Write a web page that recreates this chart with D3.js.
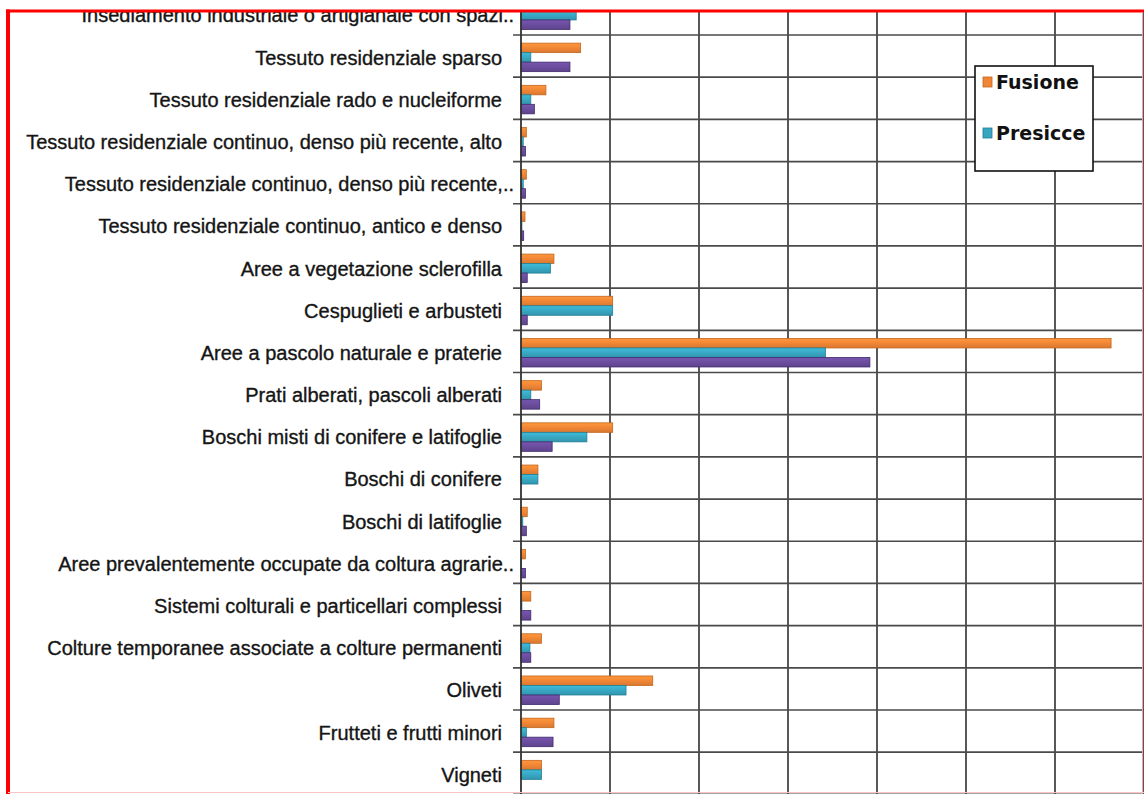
<!DOCTYPE html>
<html>
<head>
<meta charset="utf-8">
<script src="https://cdn.jsdelivr.net/npm/d3@7"></script>
<style>
  html, body { margin: 0; padding: 0; background: #fff; }
  svg { display: block; }
</style>
</head>
<body>
<svg id="chart" width="1144" height="794"></svg>
<script>
// ---- data (values in arbitrary units; one gridline = 100) ----
const categories = [
  "Insediamento industriale o artigianale con spazi..",
  "Tessuto residenziale sparso",
  "Tessuto residenziale rado e nucleiforme",
  "Tessuto residenziale continuo, denso più recente, alto",
  "Tessuto residenziale continuo, denso più recente,..",
  "Tessuto residenziale continuo, antico e denso",
  "Aree a vegetazione sclerofilla",
  "Cespuglieti e arbusteti",
  "Aree a pascolo naturale e praterie",
  "Prati alberati, pascoli alberati",
  "Boschi misti di conifere e latifoglie",
  "Boschi di conifere",
  "Boschi di latifoglie",
  "Aree prevalentemente occupate da coltura agrarie..",
  "Sistemi colturali e particellari complessi",
  "Colture temporanee associate a  colture permanenti",
  "Oliveti",
  "Frutteti e frutti minori",
  "Vigneti"
];
const seriesNames = ["Fusione", "Presicce", "Altro"];
const fusione  = [67, 67, 28, 6, 6, 4.5, 37, 103, 663, 23, 103, 19, 7, 5, 11, 23, 148, 37, 23];
const presicce = [62, 11, 11, 2.5, 2.5, 1, 33, 103, 342, 11, 74, 19, 2, 0.5, 1, 10, 118, 6, 23];
const altro    = [55, 55, 15, 5, 5, 3, 7, 7, 392, 21, 35, 0, 6, 5, 11, 11, 43, 36, 0];
const legendNames = ["Fusione", "Presicce"];
const xTicks = [100, 200, 300, 400, 500, 600, 700];
const xMax = 700;

const seriesValues = [fusione, presicce, altro];
const fills   = ["#EF8535", "#38A6C1", "#6A4C9C"];
const strokes = ["#C4661E", "#1E7E96", "#3E2A6B"];

// ---- layout ----
const svg = d3.select("#chart");
const W = 1144, H = 794;
const plotTop = 12;
const x = d3.scaleLinear().domain([0, xMax]).range([521, 1144]);
const y = d3.scaleBand().domain(categories).range([-7.2, 794.4]).paddingInner(0).paddingOuter(0);
const ys = d3.scaleBand().domain(seriesNames).range([1.3, y.bandwidth() + 1.3]).paddingInner(0).paddingOuter(0.72);

// gradients for bars
const defs = svg.append("defs");
fills.forEach((c, i) => {
  const g = defs.append("linearGradient").attr("id", "g" + i)
    .attr("x1", 0).attr("y1", 0).attr("x2", 0).attr("y2", 1);
  g.append("stop").attr("offset", "0%").attr("stop-color", d3.color(c).brighter(0.35));
  g.append("stop").attr("offset", "55%").attr("stop-color", c);
  g.append("stop").attr("offset", "100%").attr("stop-color", d3.color(c).darker(0.3));
});
defs.append("clipPath").attr("id", "clip")
  .append("rect").attr("x", 0).attr("y", plotTop).attr("width", W).attr("height", H - plotTop);

const root = svg.append("g").attr("clip-path", "url(#clip)");

// vertical gridlines
root.append("g").selectAll("line").data(xTicks).join("line")
  .attr("x1", d => x(d)).attr("x2", d => x(d))
  .attr("y1", plotTop).attr("y2", H)
  .attr("stroke", "#2e2e2e").attr("stroke-width", 1.6);

// horizontal category separators (band boundaries)
const bounds = categories.map(c => y(c)).concat([y(categories[categories.length - 1]) + y.bandwidth()]);
root.append("g").selectAll("line").data(bounds).join("line")
  .attr("x1", x(0) - 8).attr("x2", W)
  .attr("y1", d => d).attr("y2", d => d)
  .attr("stroke", "#4a4a4a").attr("stroke-width", 1.7);

// bars
const groups = root.append("g").selectAll("g").data(categories).join("g")
  .attr("transform", c => `translate(0,${y(c)})`);
groups.selectAll("rect")
  .data((c, ci) => seriesNames.map((s, si) => ({ s, si, v: seriesValues[si][ci] })))
  .join("rect")
  .filter(d => d.v > 0)
  .attr("x", x(0))
  .attr("y", d => ys(d.s))
  .attr("width", d => x(d.v) - x(0))
  .attr("height", ys.bandwidth())
  .attr("fill", d => `url(#g${d.si})`)
  .attr("stroke", d => strokes[d.si])
  .attr("stroke-width", 0.8);

// axis line
root.append("line")
  .attr("x1", x(0)).attr("x2", x(0)).attr("y1", plotTop).attr("y2", H)
  .attr("stroke", "#333").attr("stroke-width", 1.8);

// category labels
root.append("g").selectAll("text").data(categories).join("text")
  .attr("x", c => c.endsWith("..") ? 514 : 502)
  .attr("y", c => y(c) + y.bandwidth() / 2 + 1.5)
  .attr("dy", "0.35em")
  .attr("text-anchor", "end")
  .attr("font-family", "'Liberation Sans', Arial, sans-serif")
  .attr("font-size", 20)
  .attr("fill", "#151515")
  .attr("stroke", "#151515")
  .attr("stroke-width", 0.35)
  .text(c => c);

// legend
const leg = svg.append("g");
leg.append("rect").attr("x", 975).attr("y", 66).attr("width", 118).attr("height", 105)
  .attr("fill", "#fff").attr("stroke", "#111").attr("stroke-width", 1.6);
const li = leg.selectAll("g").data(legendNames).join("g")
  .attr("transform", (d, i) => `translate(983,${82 + i * 51})`);
li.append("rect").attr("x", 0).attr("y", -5).attr("width", 9).attr("height", 10)
  .attr("fill", (d, i) => fills[i]).attr("stroke", (d, i) => strokes[i]).attr("stroke-width", 0.8);
li.append("text").attr("x", 13).attr("y", 0).attr("dy", "0.36em")
  .attr("font-family", "'DejaVu Sans', sans-serif").attr("font-weight", "bold")
  .attr("font-size", 19).attr("fill", "#111").text(d => d);

// frame
svg.append("rect").attr("x", 0).attr("y", 0).attr("width", W).attr("height", 9.5).attr("fill", "#fff");
svg.append("line").attr("x1", 6).attr("x2", W).attr("y1", 11).attr("y2", 11)
  .attr("stroke", "#ff0000").attr("stroke-width", 3.2);
svg.append("line").attr("x1", 8).attr("x2", 8).attr("y1", 9.5).attr("y2", H)
  .attr("stroke", "#ff0000").attr("stroke-width", 4);
svg.append("line").attr("x1", 1142.5).attr("x2", 1142.5).attr("y1", 12).attr("y2", H)
  .attr("stroke", "#f3a0a0").attr("stroke-width", 1);
svg.append("line").attr("x1", 8).attr("x2", W).attr("y1", 792.5).attr("y2", 792.5)
  .attr("stroke", "#f6c4c4").attr("stroke-width", 1);
</script>
</body>
</html>
